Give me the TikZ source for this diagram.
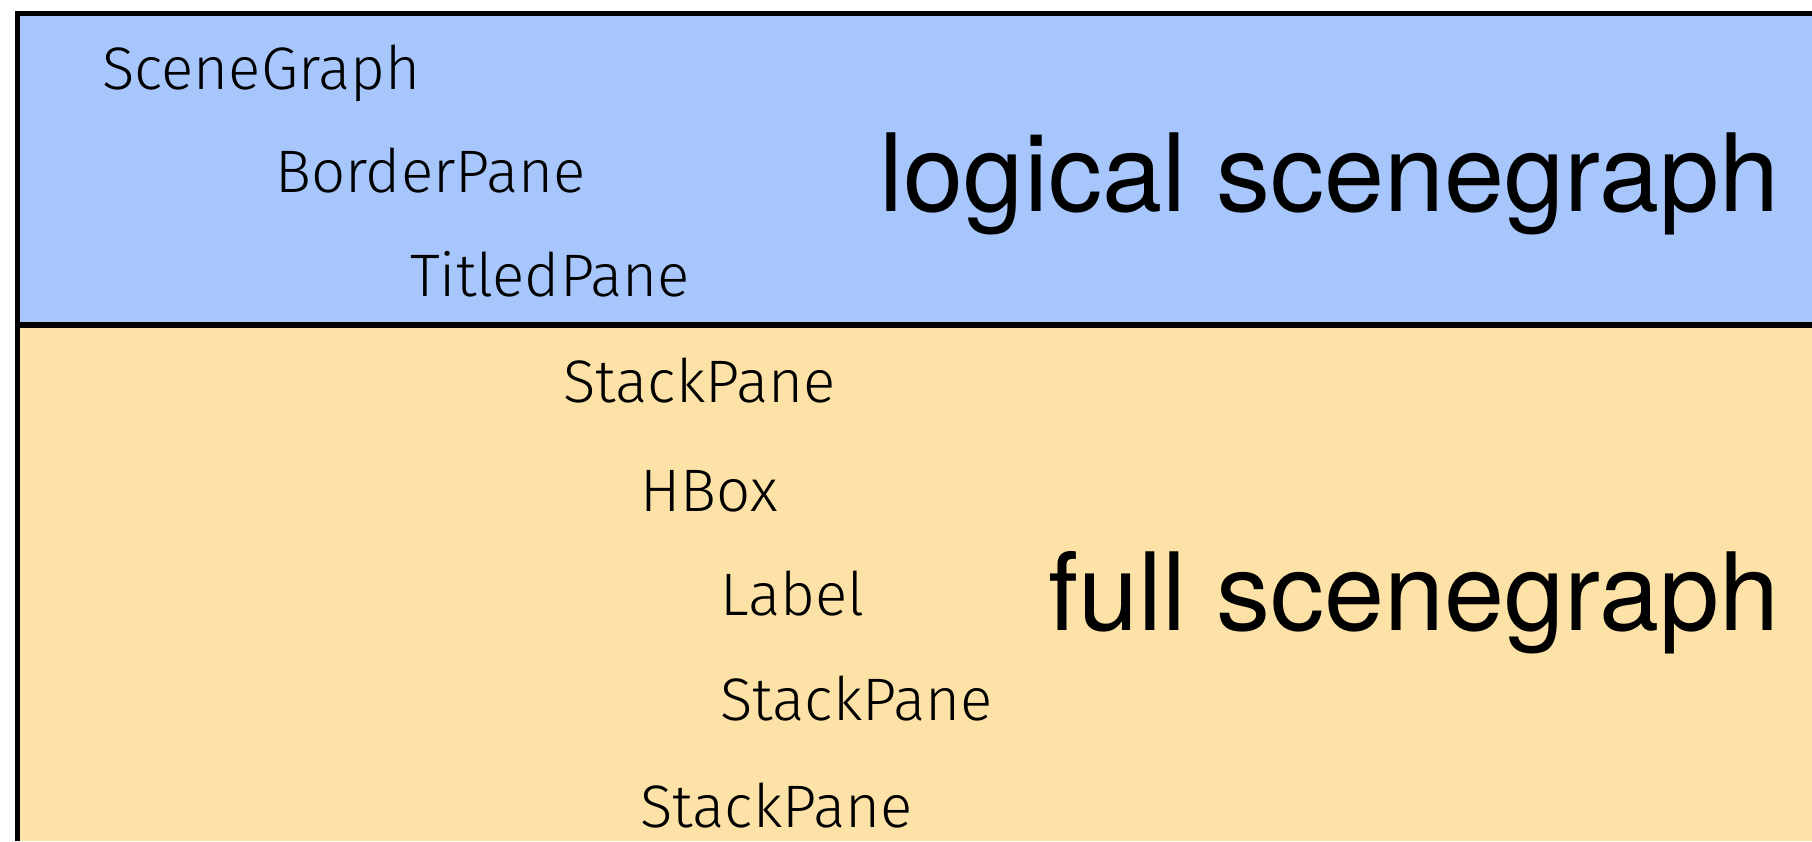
\documentclass[tikz,border=0pt]{standalone}
\usepackage{fontspec}
\setmainfont{Fira Sans}[UprightFont=* Light]
\newfontfamily\bigfont{TeX Gyre Heros}
\definecolor{logicblue}{RGB}{167,198,252}
\definecolor{fullyellow}{RGB}{253,226,167}
\tikzset{
  item/.style={anchor=base west, inner sep=0pt, font=\fontsize{60}{70}\selectfont},
  title/.style={anchor=base east, inner sep=0pt, font=\bigfont\fontsize{108}{120}\selectfont},
  frame/.style={line width=5.5pt, black}
}
\begin{document}
\begin{tikzpicture}[x=1pt,y=-1pt]
\useasboundingbox (0,0) rectangle (1812,841);
\fill[logicblue] (17.5,13.5) rectangle (1812,325);
\fill[fullyellow] (17.5,325) rectangle (1812,841);
\coordinate (tl) at (17.5,13.5);
\coordinate (tr) at (1812,13.5);
\coordinate (bl) at (17.5,841);
\coordinate (ml) at (17.5,325);
\coordinate (mr) at (1812,325);
\draw[frame] (tr) -- (tl) -- (bl);
\draw[frame] (ml) -- (mr);

\node[item] (sg) at (102,89) {SceneGraph};
\node[item] (bp) at (275,192) {BorderPane};
\node[item] (tp) at (410,296) {TitledPane};
\node[item] (sp1) at (563,402) {StackPane};
\node[item] (hb) at (640,511) {HBox};
\node[item] (lb) at (720,615) {Label};
\node[item] (sp2) at (720,720) {StackPane};
\node[item] (sp3) at (640,827) {StackPane};

\node[title] (logical) at (1780,211) {logical scenegraph};
\node[title] (full) at (1780,630) {full scenegraph};
\end{tikzpicture}
\end{document}
